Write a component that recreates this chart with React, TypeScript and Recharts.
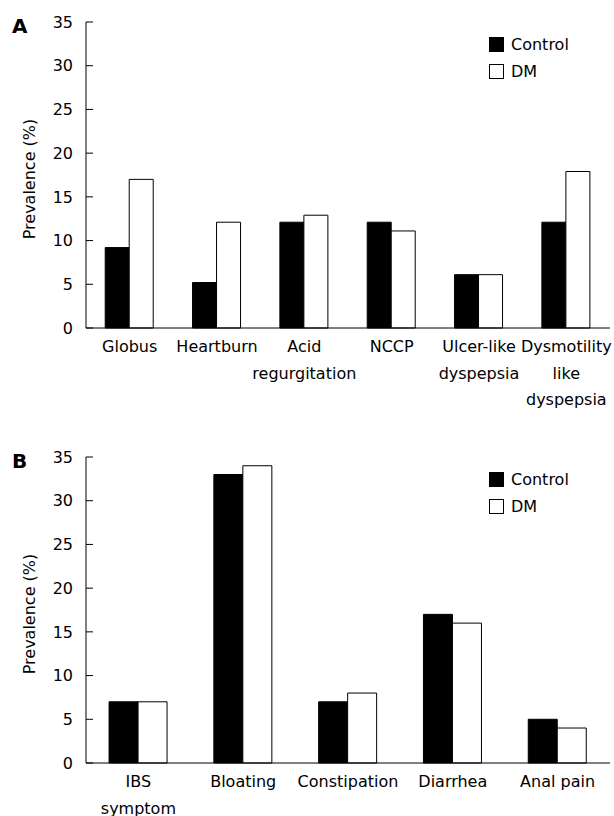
import React from 'react';
import { BarChart, Bar, XAxis, YAxis, Legend } from 'recharts';

const upperCategories = ['Globus', 'Heartburn', 'Acid\nregurgitation', 'NCCP', 'Ulcer-like\ndyspepsia', 'Dysmotility\nlike\ndyspepsia'];
const upperControl = [9.2, 5.2, 12.1, 12.1, 6.1, 12.1];
const upperDM = [17, 12.1, 12.9, 11.1, 6.1, 17.9];

const lowerCategories = ['IBS\nsymptom', 'Bloating', 'Constipation', 'Diarrhea', 'Anal pain'];
const lowerControl = [7, 33, 7, 17, 5];
const lowerDM = [7, 34, 8, 16, 4];

const yTicks = [0, 5, 10, 15, 20, 25, 30, 35];
const seriesNames = ['Control', 'DM'];

const FONT = '"DejaVu Sans", Verdana, sans-serif';

const CategoryTick = ({ x, y, payload }: any) => {
  const lines = String(payload.value).split('\n');
  return (
    <text x={x} y={y} textAnchor="middle" fontSize={16} fill="#000" fontFamily={FONT}>
      {lines.map((line, i) => (
        <tspan key={i} x={x} dy={i === 0 ? 23 : 26.5}>
          {line}
        </tspan>
      ))}
    </text>
  );
};

const LegendBox = () => (
  <div style={{ fontFamily: FONT, fontSize: 16, color: '#000' }}>
    {seriesNames.map((name, i) => (
      <div key={name} style={{ display: 'flex', alignItems: 'center', height: 27 }}>
        <span
          style={{
            display: 'inline-block',
            width: 13,
            height: 13,
            border: '1px solid #000',
            background: i === 0 ? '#000' : '#fff',
            marginRight: 7,
          }}
        />
        {name}
      </div>
    ))}
  </div>
);

interface PanelProps {
  letter: string;
  categories: string[];
  control: number[];
  dm: number[];
  height: number;
  xAxisHeight: number;
}

const Panel: React.FC<PanelProps> = ({ letter, categories, control, dm, height, xAxisHeight }) => {
  const data = categories.map((name, i) => ({ name, Control: control[i], DM: dm[i] }));
  const edges = categories.map((_, i) => i).concat(categories.length);

  return (
    <div style={{ position: 'relative', width: 614, height }}>
      <div
        style={{
          position: 'absolute',
          left: 12,
          top: 16,
          fontFamily: FONT,
          fontWeight: 'bold',
          fontSize: 20,
          lineHeight: '20px',
        }}
      >
        {letter}
      </div>
      <BarChart
        width={614}
        height={height}
        data={data}
        margin={{ top: 22, right: 4, left: 0, bottom: 1 }}
        barCategoryGap="22%"
        barGap={0}
      >
        {/* outer axis only carries the labels; the inner one draws the boundary ticks */}
        <XAxis
          xAxisId="labels"
          dataKey="name"
          height={xAxisHeight}
          interval={0}
          axisLine={false}
          tickLine={false}
          tickSize={0}
          tickMargin={0}
          tick={<CategoryTick />}
        />
        <XAxis
          xAxisId="bounds"
          type="number"
          domain={[0, categories.length]}
          ticks={edges}
          allowDataOverflow
          height={1}
          tick={false}
          tickSize={-7}
          axisLine={{ stroke: '#000' }}
          tickLine={{ stroke: '#000' }}
        />
        <YAxis
          domain={[0, 35]}
          ticks={yTicks}
          width={86}
          tickSize={-7}
          tickMargin={20}
          axisLine={{ stroke: '#000' }}
          tickLine={{ stroke: '#000' }}
          tick={{ fill: '#000', fontSize: 16, fontFamily: FONT }}
          label={{
            value: 'Prevalence (%)',
            angle: -90,
            position: 'insideLeft',
            offset: 29,
            dy: 4,
            fill: '#000',
            fontSize: 16,
            fontFamily: FONT,
            style: { textAnchor: 'middle' },
          }}
        />
        <Legend
          layout="vertical"
          align="center"
          verticalAlign="middle"
          content={<LegendBox />}
          wrapperStyle={{ top: 31, left: 489, width: 120 }}
        />
        <Bar xAxisId="labels" dataKey="Control" fill="#000" stroke="#000" strokeWidth={1} isAnimationActive={false} />
        <Bar xAxisId="labels" dataKey="DM" fill="#fff" stroke="#000" strokeWidth={1} isAnimationActive={false} />
      </BarChart>
    </div>
  );
};

export default function App() {
  return (
    <div style={{ position: 'absolute', left: 0, top: 0, width: 614, height: 816, background: '#fff', overflow: 'hidden' }}>
      <Panel
        letter="A"
        categories={upperCategories}
        control={upperControl}
        dm={upperDM}
        height={435}
        xAxisHeight={105}
      />
      <Panel
        letter="B"
        categories={lowerCategories}
        control={lowerControl}
        dm={lowerDM}
        height={381}
        xAxisHeight={51}
      />
    </div>
  );
}
